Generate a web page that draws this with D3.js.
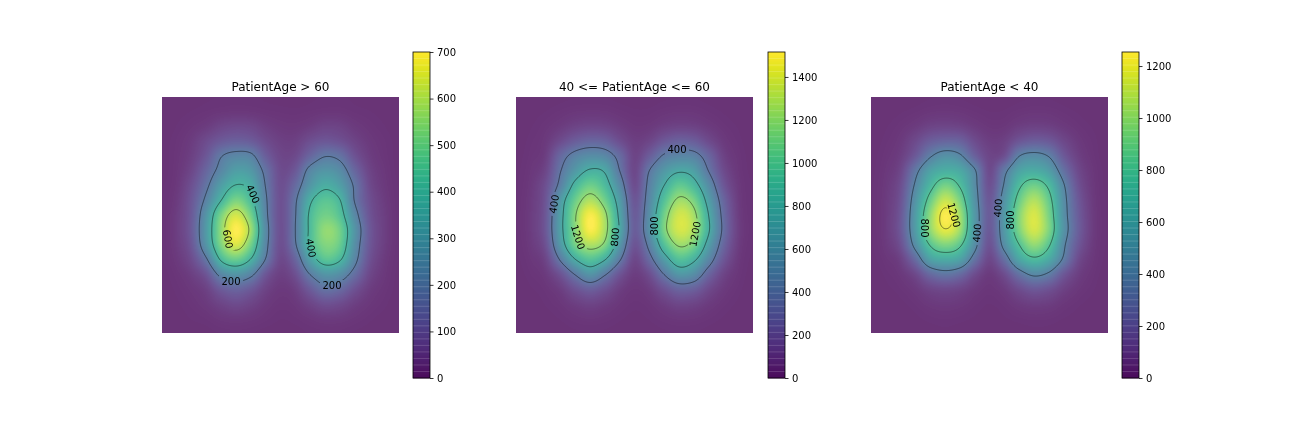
<!DOCTYPE html>
<html><head><meta charset="utf-8">
<script src="https://cdn.jsdelivr.net/npm/d3@7"></script>
<style>
html,body{margin:0;padding:0;background:#fff;width:1296px;height:432px;overflow:hidden}
#wrap{position:relative;width:1296px;height:432px}
canvas,svg{position:absolute;left:0;top:0}
text{font-family:"DejaVu Sans",sans-serif}
</style></head><body><div id="wrap"></div>
<script>
const titles = ["PatientAge > 60", "40 <= PatientAge <= 60", "PatientAge < 40"];
const maxima = [700, 1516, 1254];
const tickValues1 = [0,100,200,300,400,500,600,700];
const tickValues2 = [0,200,400,600,800,1000,1200,1400];
const tickValues3 = [0,200,400,600,800,1000,1200];
const levels1 = [200,400,600];
const levels2 = [400,800,1200];
const levels3 = [400,800,1200];

const grid1 = [
[0,0,1,2,3,4,3,2,1,1,2,3,3,2,1,0,0],
[0,1,3,6,10,12,11,7,5,4,6,9,9,5,3,1,0],
[0,3,10,22,45,55,50,28,16,14,24,40,36,18,8,3,0],
[1,6,22,60,100,118,105,60,32,32,68,90,75,40,16,6,1],
[1,8,32,92,195,235,222,110,48,55,132,195,172,78,26,8,1],
[1,10,48,135,240,320,298,170,62,95,235,290,255,135,42,12,1],
[2,14,72,178,320,405,368,195,70,145,292,375,322,185,58,16,2],
[2,20,90,228,400,520,425,215,75,185,380,460,405,195,72,22,2],
[2,26,100,290,520,640,510,228,75,195,420,505,450,245,85,28,2],
[2,28,105,310,555,700,570,250,75,200,425,555,505,290,100,30,2],
[2,24,92,290,530,650,510,235,70,190,420,530,490,270,95,28,2],
[2,16,62,190,420,495,395,195,55,130,330,460,415,235,78,20,2],
[1,8,30,88,240,290,230,92,32,72,205,290,265,160,52,14,1],
[1,4,14,36,105,135,100,40,16,32,105,175,150,78,26,8,1],
[0,2,7,18,42,60,42,18,8,14,42,72,60,30,12,4,0],
[0,1,3,6,14,18,14,7,3,5,12,20,18,10,4,1,0],
[0,0,1,1,3,4,3,1,1,1,3,4,4,2,1,0,0]];

const grid2 = [
[0,0,1,3,5,6,5,3,2,2,4,5,5,3,1,0,0],
[0,2,6,14,24,28,26,15,8,9,18,24,22,12,5,1,0],
[1,5,18,45,85,105,95,55,26,32,65,85,75,42,16,5,1],
[1,10,35,130,235,290,265,145,60,95,205,265,235,125,40,10,1],
[2,16,60,300,480,560,520,320,90,230,430,500,480,290,80,18,2],
[3,25,100,390,650,830,770,400,110,400,640,770,700,395,130,25,3],
[4,36,155,475,880,1080,920,540,140,470,800,1030,900,560,200,38,4],
[5,45,185,660,1070,1290,1090,670,195,520,960,1240,1120,700,290,50,5],
[5,50,200,710,1180,1490,1250,740,230,570,1090,1380,1260,800,335,60,5],
[5,50,205,720,1170,1500,1270,770,240,590,1130,1390,1280,830,355,68,5],
[4,40,165,650,1110,1290,1150,640,185,470,960,1230,1120,700,295,55,4],
[3,24,95,430,800,980,820,430,110,320,680,960,850,520,200,36,3],
[2,12,42,175,420,620,430,185,55,145,410,640,570,290,95,20,2],
[1,5,16,60,175,260,175,65,24,55,175,290,260,125,42,10,1],
[0,2,7,22,60,90,60,25,10,20,60,105,90,45,16,4,0],
[0,1,2,7,18,26,18,8,3,7,18,28,25,13,5,1,0],
[0,0,0,2,4,5,4,2,1,2,4,6,5,3,1,0,0]];

const grid3 = [
[0,0,1,2,4,5,4,2,1,1,3,4,4,2,1,0,0],
[0,1,4,9,18,22,18,10,5,6,13,18,16,9,4,1,0],
[1,4,14,36,70,80,70,38,18,20,48,62,55,30,12,4,1],
[1,8,30,100,195,235,220,110,48,60,155,200,175,90,30,8,1],
[2,14,50,175,380,490,430,215,80,125,395,460,390,175,55,12,1],
[2,22,85,340,590,680,640,420,105,345,600,660,570,300,95,20,2],
[3,30,120,430,730,920,780,460,135,420,760,900,760,420,135,26,2],
[3,36,145,510,880,1120,930,500,170,500,880,1070,870,470,170,32,3],
[3,40,165,560,990,1245,1040,540,190,540,960,1160,930,490,190,38,3],
[3,40,170,560,990,1190,1030,530,180,540,940,1150,950,510,200,40,3],
[3,32,130,470,820,950,840,470,145,470,800,1000,830,440,165,32,3],
[2,16,62,270,590,660,600,310,90,290,620,760,650,370,105,22,2],
[1,7,26,95,260,330,270,115,35,115,310,440,370,170,52,12,1],
[0,3,10,32,80,100,80,36,15,40,115,175,140,65,22,6,0],
[0,1,3,11,28,36,28,12,5,13,38,55,46,20,7,2,0],
[0,0,1,3,8,11,8,4,2,4,9,13,11,5,2,0,0],
[0,0,0,1,2,3,2,1,0,1,2,3,3,1,0,0,0]];

// contour labels: [text, x, y, rotation] in pixels inside the axes box
const labels1 = [["200",69,184,0],["200",170,188,0],["400",91,97,65],["400",149,151,80],["600",66,142,80]];
const labels2 = [["400",38,107,-80],["1200",62,140,72],["800",99,140,-85],["800",138,129,-90],["400",161,52,0],["1200",179,137,-80]];
const labels3 = [["1200",83,118,75],["800",54,131,90],["400",106,136,-85],["400",127,111,-85],["800",139,123,-90]];

const panelLefts = [162,516,871];
const barLefts = [413,768,1122];
const W = 237, H = 236, top0 = 97, barW = 17, barTop = 52, barBottom = 378, bands = 50, barCells = 326;

const grids = [grid1,grid2,grid3], ticks = [tickValues1,tickValues2,tickValues3],
      levels = [levels1,levels2,levels3], labels = [labels1,labels2,labels3];

const cr = (a,b,c,d,t)=>0.5*((2*b)+(-a+c)*t+(2*a-5*b+4*c-d)*t*t+(-a+3*b-3*c+d)*t*t*t);
function sampler(g){
  const n=g.length-1, at=(r,c)=>g[Math.max(0,Math.min(n,r))][Math.max(0,Math.min(n,c))];
  return (fx,fy)=>{
    const c=Math.min(n-1,Math.floor(fx)), r=Math.min(n-1,Math.floor(fy)), tx=fx-c, ty=fy-r;
    const row=i=>cr(at(r+i,c-1),at(r+i,c),at(r+i,c+1),at(r+i,c+2),tx);
    return Math.max(0,cr(row(-1),row(0),row(1),row(2),ty));
  };
}

const wrap=d3.select("#wrap");
const canvas=wrap.append("canvas").attr("width",1296).attr("height",432).node();
const ctx=canvas.getContext("2d");
const svg=wrap.append("svg").attr("width",1296).attr("height",432);

titles.forEach((title,p)=>{
  const g=grids[p], n=g.length-1, left=panelLefts[p];
  const xs=d3.scaleLinear().domain([0,W]).range([0,n]);
  const ys=d3.scaleLinear().domain([0,H]).range([0,n]);
  const color=d3.scaleSequential(d3.interpolateViridis).domain([0,maxima[p]]);
  const f=sampler(g), fine=new Float64Array(W*H);
  for(let j=0;j<H;j++)for(let i=0;i<W;i++)fine[j*W+i]=f(xs(i+.5),ys(j+.5));
  const img=ctx.createImageData(W,H);
  fine.forEach((v,k)=>{
    const c=d3.rgb(color(Math.min(v,maxima[p])));
    img.data[k*4]=c.r*.8+51; img.data[k*4+1]=c.g*.8+51; img.data[k*4+2]=c.b*.8+51; img.data[k*4+3]=255;
  });
  ctx.putImageData(img,left,top0);

  const axes=svg.append("g").attr("transform",`translate(${left},${top0})`);
  const mask=svg.append("mask").attr("id","m"+p).attr("maskUnits","userSpaceOnUse")
    .attr("x",0).attr("y",0).attr("width",W).attr("height",H);
  mask.append("rect").attr("width",W).attr("height",H).attr("fill","#fff");
  mask.selectAll("rect.gap").data(labels[p]).join("rect").attr("class","gap")
    .attr("x",d=>-d[0].length*3.5-1.5).attr("y",-5).attr("width",d=>d[0].length*7+3).attr("height",10).attr("fill","#000")
    .attr("transform",d=>`translate(${d[1]},${d[2]}) rotate(${d[3]})`);
  const contours=d3.contours().size([W,H]).smooth(true).thresholds(levels[p])(Array.from(fine));
  axes.append("g").attr("mask",`url(#m${p})`).selectAll("path").data(contours).join("path")
    .attr("d",d3.geoPath()).attr("fill","none").attr("stroke","#000").attr("stroke-opacity",.8).attr("stroke-width",.6);
  axes.selectAll("text.cl").data(labels[p]).join("text").attr("class","cl")
    .attr("transform",d=>`translate(${d[1]},${d[2]}) rotate(${d[3]})`)
    .attr("text-anchor","middle").attr("dy","0.36em").attr("font-size",10).attr("fill","#000").text(d=>d[0]);
  svg.append("text").attr("x",left+W/2).attr("y",91).attr("text-anchor","middle")
    .attr("font-size",12).attr("fill","#000").text(title);

  // colour bar
  const barX=barLefts[p];
  const yBar=d3.scaleLinear().domain([0,maxima[p]]).range([barBottom,barTop]);
  const cb=svg.append("g");
  const step=maxima[p]/barCells;
  const cellVals=d3.range(barCells).map(i=>i*step);
  const seamVals=d3.range(1,bands).map(i=>i*maxima[p]/bands);
  cb.selectAll("rect.b").data(cellVals).join("rect").attr("class","b")
    .attr("x",barX).attr("width",barW)
    .attr("y",d=>yBar(d+step)).attr("height",d=>yBar(d)-yBar(d+step)+.4)
    .attr("fill",d=>color(d+step/2)).attr("fill-opacity",.93);
  cb.selectAll("line.s").data(seamVals).join("line").attr("class","s")
    .attr("x1",barX).attr("x2",barX+barW).attr("y1",d=>yBar(d)).attr("y2",d=>yBar(d))
    .attr("stroke","#fff").attr("stroke-opacity",.16).attr("stroke-width",1);
  cb.append("rect").attr("x",barX).attr("y",barTop).attr("width",barW).attr("height",barBottom-barTop)
    .attr("fill","none").attr("stroke","#000").attr("stroke-width",.8);
  const ax=cb.append("g").attr("transform",`translate(${barX+barW},0)`)
    .call(d3.axisRight(yBar).tickValues(ticks[p]).tickSize(3.5).tickPadding(3.5).tickFormat(d3.format("d")));
  ax.select(".domain").remove();
  ax.selectAll("line").attr("stroke","#000").attr("stroke-width",.8);
  ax.selectAll("text").attr("font-size",10).attr("fill","#000").attr("font-family","DejaVu Sans");
});
</script></body></html>
